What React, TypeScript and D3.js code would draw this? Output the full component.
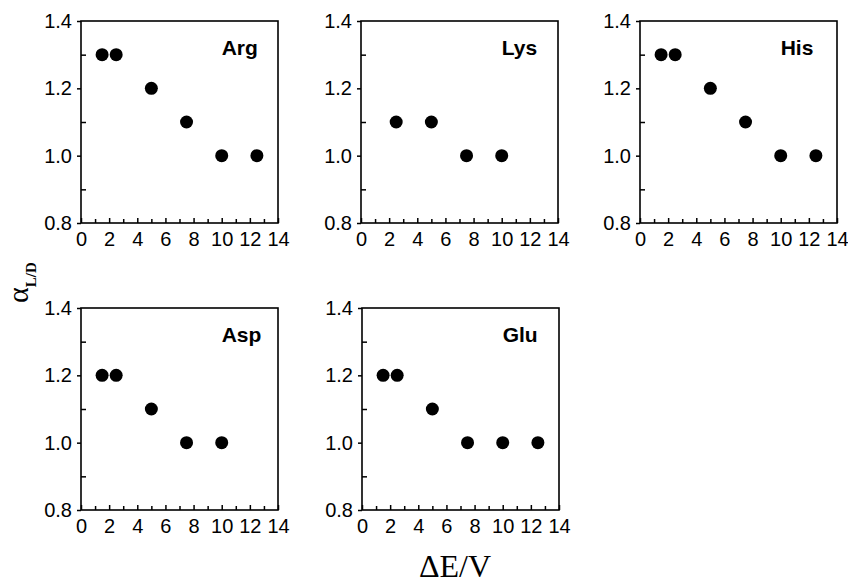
import * as d3 from 'd3';
import React, { useEffect, useRef } from 'react';

// Data
const fieldSteps = [1.5, 2.5, 5, 7.5, 10, 12.5]; // ΔE / V
const argValues = [1.3, 1.3, 1.2, 1.1, 1.0, 1.0];
const lysSteps = [2.5, 5, 7.5, 10];
const lysValues = [1.1, 1.1, 1.0, 1.0];
const hisValues = [1.3, 1.3, 1.2, 1.1, 1.0, 1.0];
const aspSteps = [1.5, 2.5, 5, 7.5, 10];
const aspValues = [1.2, 1.2, 1.1, 1.0, 1.0];
const gluValues = [1.2, 1.2, 1.1, 1.0, 1.0, 1.0];

const xTicks = [0, 2, 4, 6, 8, 10, 12, 14];
const yTicks = [0.8, 1.0, 1.2, 1.4];
const yMinor = [0.9, 1.1, 1.3];

const panels = [
    { name: 'Arg', xs: fieldSteps, ys: argValues, left: 81, top: 21 },
    { name: 'Lys', xs: lysSteps, ys: lysValues, left: 361, top: 21 },
    { name: 'His', xs: fieldSteps, ys: hisValues, left: 640, top: 21 },
    { name: 'Asp', xs: aspSteps, ys: aspValues, left: 81, top: 308 },
    { name: 'Glu', xs: fieldSteps, ys: gluValues, left: 362, top: 308 },
];

const width = 848;
const height = 585;
const pw = 197;
const ph = 202;
const sans = "'Liberation Sans', Arial, sans-serif";
const serif = "'Liberation Serif', 'Times New Roman', serif";

export default function App() {
    const svgRef = useRef(null);

    useEffect(() => {
        const svg = d3.select(svgRef.current);
        svg.selectAll('*').remove();

        svg.append('rect').attr('width', width).attr('height', height).attr('fill', '#fff');

        const x = d3.scaleLinear().domain([0, 14]).range([0, pw]);
        const y = d3.scaleLinear().domain([0.8, 1.4]).range([ph, 0]);

        panels.forEach(p => {
            const g = svg.append('g').attr('transform', `translate(${p.left},${p.top})`);

            // x axis, ticks pointing inward
            const xa = g.append('g').attr('transform', `translate(0,${ph})`)
                .call(d3.axisBottom(x).tickValues(xTicks).tickSize(-5).tickPadding(10).tickFormat(d3.format('d')));
            g.append('g').attr('transform', `translate(0,${ph})`)
                .call(d3.axisBottom(x).tickValues(d3.range(1, 14, 2)).tickSize(-4).tickFormat(() => ''));

            // y axis, major ticks outward, minor inward
            const ya = g.append('g')
                .call(d3.axisLeft(y).tickValues(yTicks).tickSize(4).tickPadding(5).tickFormat(d3.format('.1f')));
            g.append('g')
                .call(d3.axisLeft(y).tickValues(yMinor).tickSize(-5).tickFormat(() => ''));

            g.selectAll('.domain').remove();
            g.selectAll('.tick line').attr('stroke', '#000').attr('stroke-width', 1.5);
            [xa, ya].forEach(a => a.selectAll('text')
                .attr('font-family', sans).attr('font-size', 20).attr('fill', '#000'));
            xa.selectAll('text').attr('dy', '0.71em').attr('y', 9);

            g.append('rect')
                .attr('width', pw).attr('height', ph)
                .attr('fill', 'none').attr('stroke', '#000').attr('stroke-width', 1.6);

            g.selectAll('circle').data(p.xs).enter().append('circle')
                .attr('cx', d => x(d))
                .attr('cy', (d, i) => y(p.ys[i]))
                .attr('r', 6.5)
                .attr('fill', '#000');

            g.append('text')
                .attr('x', x(10))
                .attr('y', 34)
                .attr('font-family', sans)
                .attr('font-weight', 'bold')
                .attr('font-size', 21)
                .text(p.name);
        });

        // y axis title
        const yt = svg.append('text')
            .attr('transform', 'translate(28,303) rotate(-90)')
            .attr('font-family', serif)
            .attr('fill', '#000');
        yt.append('tspan').attr('font-size', 30).text('α');
        yt.append('tspan').attr('font-size', 15).attr('font-weight', 'bold').attr('dy', 8).text('L/D');

        // x axis title
        svg.append('text')
            .attr('x', 455)
            .attr('y', 577)
            .attr('text-anchor', 'middle')
            .attr('font-family', serif)
            .attr('font-size', 32)
            .attr('fill', '#000')
            .text('ΔE/V');
    });

    return (
        <svg ref={svgRef} width={width} height={height}
            style={{ position: 'absolute', left: 0, top: 0 }}></svg>
    );
}
